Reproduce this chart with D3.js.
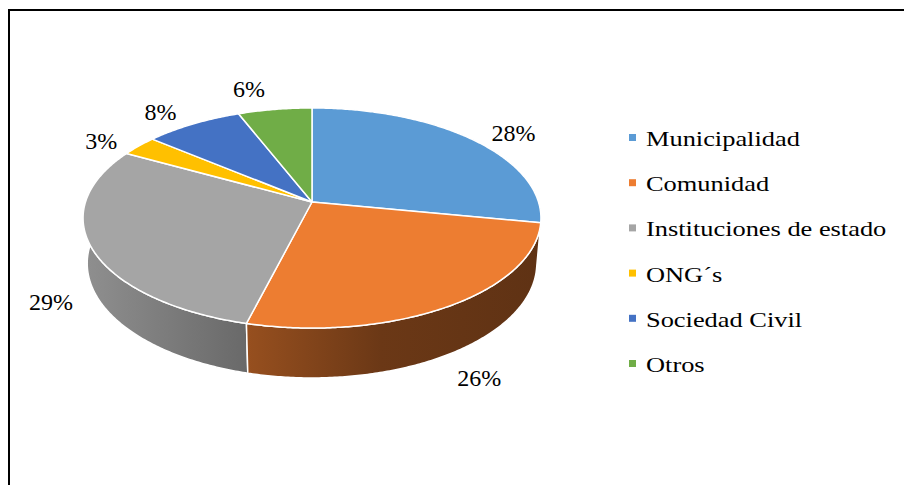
<!DOCTYPE html>
<html>
<head>
<meta charset="utf-8">
<script src="https://cdn.jsdelivr.net/npm/d3@7"></script>
<style>
  text { font-family: "Liberation Serif", serif; }
</style>
</head>
<body style="margin:0">
<svg id="chart" width="904" height="485" font-family="Liberation Serif"></svg>
<script>
// Chart data
const categories = ['Municipalidad', 'Comunidad', 'Instituciones de estado', 'ONG\u00B4s', 'Sociedad Civil', 'Otros'];
const values = [28, 26, 29, 3, 8, 6];
const colors = ['#5B9BD5', '#ED7D31', '#A5A5A5', '#FFC000', '#4472C4', '#70AD47'];

// Label fine tuning (Excel "best fit" moves some labels)
const labelNudge = [[13, 5], [0, -2], [2, -2], [-6, 5], [-11.5, 2], [-19.5, -5]];

const svg = d3.select('#chart');

// Frame
svg.append('path')
    .attr('d', 'M9,490 L9,10 L910,10')
    .attr('fill', 'none')
    .attr('stroke', '#000')
    .attr('stroke-width', 2);

// 3D projection of a tilted disc (perspective)
const cx = 312, cy = 202, S = 226.5, D = 6.05, depthH = 0.23;
const tilt = 28.4 * Math.PI / 180;
const sinT = Math.sin(tilt), cosT = Math.cos(tilt);

function project(a, r, yd) {
    const X = r * Math.sin(a);
    const Z = -r * Math.cos(a);
    const ys = Z * sinT + yd * cosT;
    const depth = Z * cosT - yd * sinT;
    const w = 1 - depth / D;
    return [cx + S * X / w, cy + S * ys / w];
}

function arcPoints(a0, a1, yd) {
    const n = Math.max(2, Math.ceil((a1 - a0) / 0.01));
    return d3.range(n + 1).map(i => project(a0 + (a1 - a0) * i / n, 1, yd));
}

const pie = d3.pie().sort(null).value(d => d);
const arcs = pie(values);
const total = d3.sum(values);
const line = d3.line();

// Side wall shading (darker to the right)
const defs = svg.append('defs');
const shade = [[0, 0.87], [0.35, 0.64], [0.65, 0.45], [1, 0.4]];
arcs.forEach((d, i) => {
    const g = defs.append('linearGradient')
        .attr('id', 'wall' + i)
        .attr('gradientUnits', 'userSpaceOnUse')
        .attr('x1', cx - S * 1.02).attr('x2', cx + S * 1.02)
        .attr('y1', 0).attr('y2', 0);
    const c = d3.rgb(colors[i]);
    shade.forEach(s => {
        g.append('stop')
            .attr('offset', s[0])
            .attr('stop-color', d3.rgb(c.r * s[1], c.g * s[1], c.b * s[1]).formatHex());
    });
});

// Walls, back to front
const wallOrder = arcs.map((d, i) => i)
    .sort((a, b) => {
        const ma = (arcs[a].startAngle + arcs[a].endAngle) / 2;
        const mb = (arcs[b].startAngle + arcs[b].endAngle) / 2;
        return -Math.cos(ma) - -Math.cos(mb);
    });

svg.append('g').selectAll('path')
    .data(wallOrder)
    .enter()
    .append('path')
    .attr('d', i => {
        const d = arcs[i];
        const top = arcPoints(d.startAngle, d.endAngle, 0);
        const bottom = arcPoints(d.startAngle, d.endAngle, depthH).reverse();
        return line(top.concat(bottom)) + 'Z';
    })
    .attr('fill', i => 'url(#wall' + i + ')')
    .attr('stroke', '#fff')
    .attr('stroke-width', 1.5)
    .attr('stroke-linejoin', 'round');

// Top faces
svg.append('g').selectAll('path')
    .data(arcs)
    .enter()
    .append('path')
    .attr('d', d => line([project(0, 0, 0)].concat(arcPoints(d.startAngle, d.endAngle, 0))) + 'Z')
    .attr('fill', (d, i) => colors[i])
    .attr('stroke', '#fff')
    .attr('stroke-width', 1.5)
    .attr('stroke-linejoin', 'round');

// Data labels
arcs.forEach((d, i) => {
    const m = (d.startAngle + d.endAngle) / 2;
    const yd = -Math.cos(m) > 0 ? depthH : 0;
    const p = project(m, 1.2, yd);
    svg.append('text')
        .attr('x', p[0] + labelNudge[i][0])
        .attr('y', p[1] + 8 + labelNudge[i][1])
        .attr('text-anchor', 'middle')
        .attr('font-family', 'Liberation Serif')
        .attr('font-size', 24)
        .text(Math.round(d.value / total * 100) + '%');
});

// Legend
const legendY = d3.scaleLinear().domain([0, categories.length - 1]).range([146, 372]);
categories.forEach((name, i) => {
    svg.append('rect')
        .attr('x', 629)
        .attr('y', legendY(i) - 12)
        .attr('width', 7)
        .attr('height', 7)
        .attr('fill', colors[i]);
    svg.append('text')
        .attr('x', 0)
        .attr('y', 0)
        .attr('transform', 'translate(646,' + legendY(i) + ') scale(1.2,1)')
        .attr('font-family', 'Liberation Serif')
        .attr('font-size', 22)
        .text(name);
});
</script>
</body>
</html>
